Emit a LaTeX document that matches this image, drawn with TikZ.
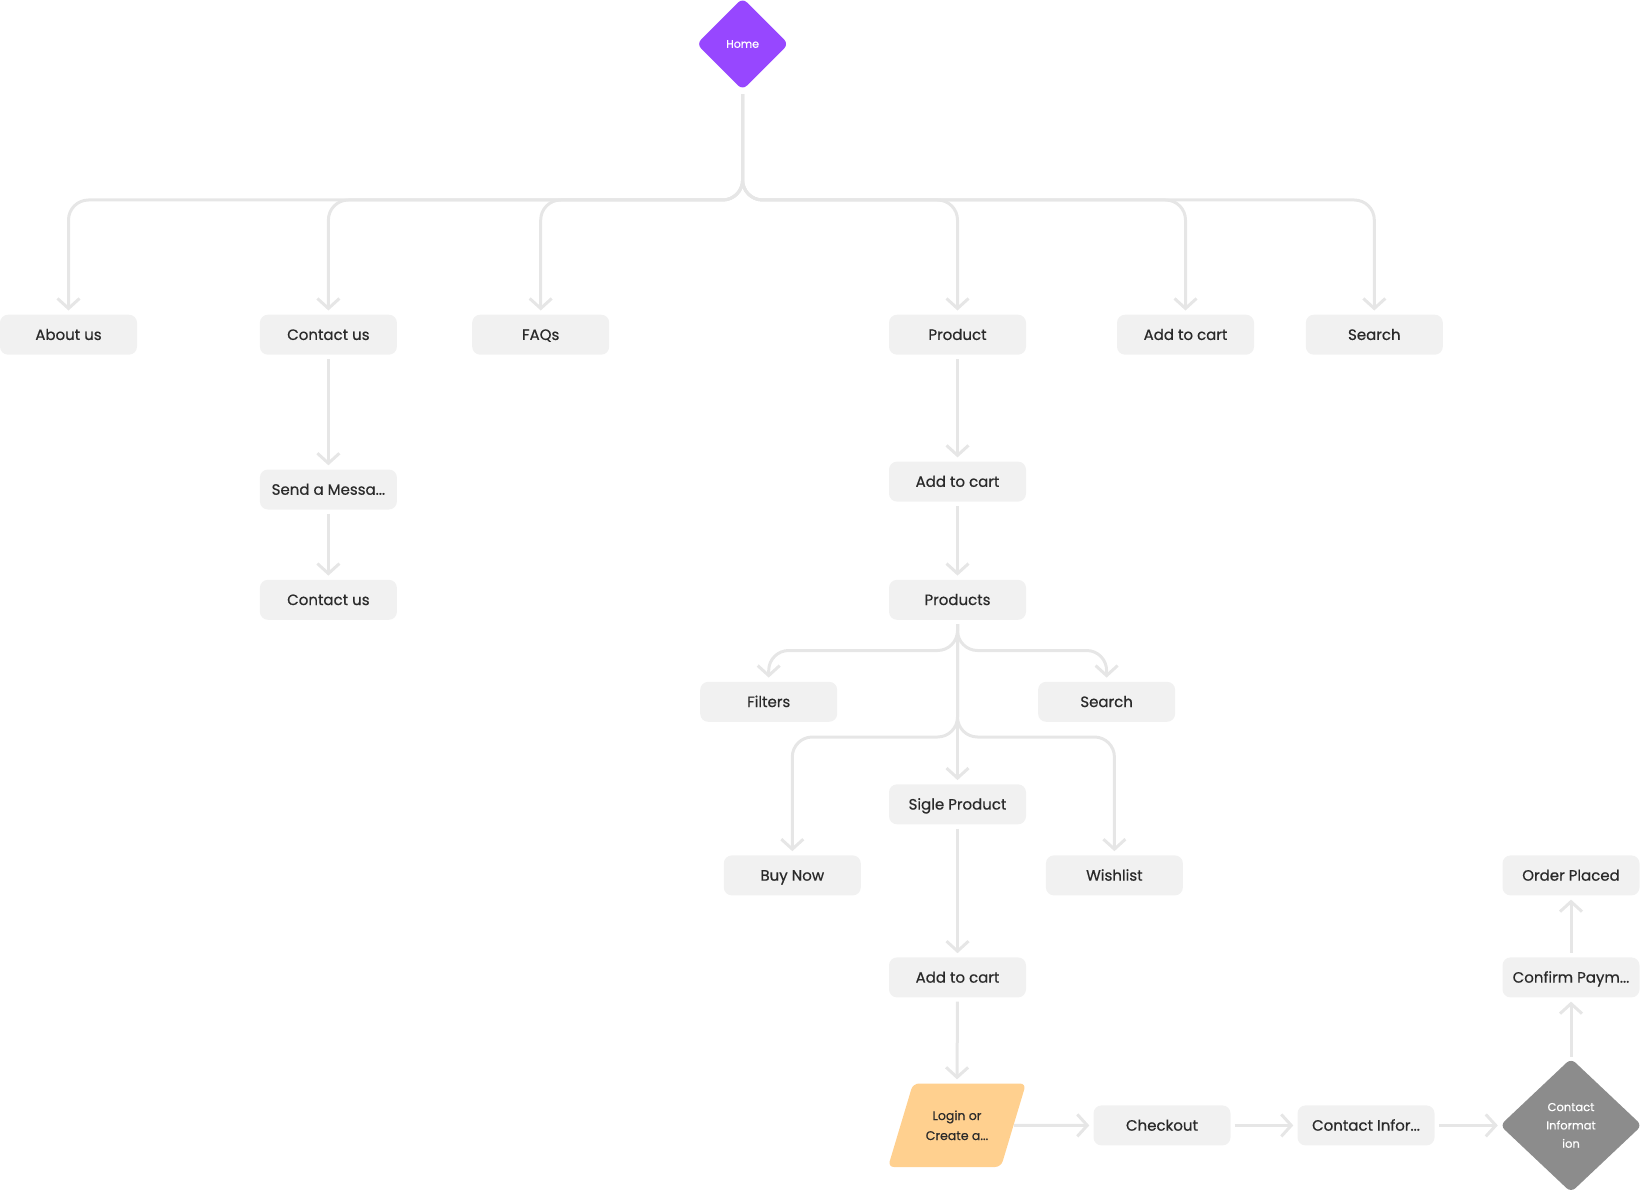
\documentclass[tikz,border=0pt]{standalone}
\usepackage{fontspec}
\setmainfont{Poppins}
\newfontfamily\medfont{Poppins}[FakeBold=0.6]
\usetikzlibrary{arrows.meta,shapes.geometric}
\definecolor{boxfill}{HTML}{F1F1F1}
\definecolor{linec}{HTML}{E6E6E6}
\definecolor{textc}{HTML}{2A2A2A}
\definecolor{purp}{HTML}{9747FF}
\definecolor{graydia}{HTML}{8C8C8C}
\definecolor{loginc}{HTML}{FFD08F}
\tikzset{
  box/.style={rectangle, rounded corners=8pt, fill=boxfill, minimum width=137pt, minimum height=40pt, inner sep=0pt, text height=10.5pt, text depth=0pt, text=textc, font=\medfont\fontsize{15}{18}\selectfont},
  conn/.style={draw=linec, line width=3pt, rounded corners=20pt, -{Straight Barb[length=10pt,width=22pt]}, shorten >=4pt, shorten <=4pt},
}
\begin{document}
\begin{tikzpicture}[x=1pt,y=-1pt]
\useasboundingbox (0,0) rectangle (1640,1190);

% nodes
\node[diamond, fill=purp, rounded corners=6pt, minimum width=92pt, minimum height=92pt, inner sep=0pt, text=white, font=\medfont\fontsize{11}{12}\selectfont] (home) at (742.6,44) {Home};

\node[box] (about) at (68.5,334.7) {About us};
\node[box] (contact) at (328.4,334.7) {Contact us};
\node[box] (faqs) at (540.7,334.7) {FAQs};
\node[box] (product) at (957.5,334.7) {Product};
\node[box] (addcart) at (1185.5,334.7) {Add to cart};
\node[box] (search) at (1374.3,334.7) {Search};

\node[box] (send) at (328.4,489.5) {Send a Messa...};
\node[box] (contact2) at (328.4,599.8) {Contact us};

\node[box] (addcart2) at (957.5,481.6) {Add to cart};
\node[box] (products) at (957.5,599.8) {Products};
\node[box] (filters) at (768.7,701.8) {Filters};
\node[box] (search2) at (1106.6,701.8) {Search};
\node[box] (sigle) at (957.5,804.3) {Sigle Product};
\node[box] (buynow) at (792.3,875.4) {Buy Now};
\node[box] (wishlist) at (1114.4,875.4) {Wishlist};
\node[box] (addcart3) at (957.5,977.4) {Add to cart};

\fill[loginc, rounded corners=6pt] (913,1083.5) -- (1026,1083.5) -- (1001,1167) -- (888,1167) -- cycle;
\node[rectangle, minimum width=112pt, minimum height=83.5pt, inner sep=0pt, text=textc, align=center, font=\medfont\fontsize{12.5}{20}\selectfont] (login) at (957,1125.3) {Login or\\Create a...};

\node[box] (checkout) at (1162,1125.4) {Checkout};
\node[box] (continfo) at (1366,1125.4) {Contact Infor...};
\node[diamond, fill=graydia, rounded corners=6pt, minimum width=142pt, minimum height=134pt, inner sep=0pt, text=white, align=center, font=\medfont\fontsize{11.5}{18.3}\selectfont] (cinfo) at (1571,1125.4) {Contact\\Informat\\ion};
\node[box] (confirm) at (1571,977.4) {Confirm Paym...};
\node[box] (order) at (1571,875.4) {Order Placed};

% bus coordinates
\coordinate (bus) at (742.6,200);
\coordinate (pb1) at (957.5,650.5);
\coordinate (pb2) at (957.5,737);

% home connectors
\draw[conn] (home.south) -- (bus) -| (about.north);
\draw[conn] (home.south) -- (bus) -| (contact.north);
\draw[conn] (home.south) -- (bus) -| (faqs.north);
\draw[conn] (home.south) -- (bus) -| (product.north);
\draw[conn] (home.south) -- (bus) -| (addcart.north);
\draw[conn] (home.south) -- (bus) -| (search.north);

% contact branch
\draw[conn] (contact.south) -- (send.north);
\draw[conn] (send.south) -- (contact2.north);

% product branch
\draw[conn] (product.south) -- (addcart2.north);
\draw[conn] (addcart2.south) -- (products.north);
\draw[conn] (products.south) -- (pb1) -| (filters.north);
\draw[conn] (products.south) -- (pb1) -| (search2.north);
\draw[conn] (products.south) -- (pb2) -| (buynow.north);
\draw[conn] (products.south) -- (pb2) -| (wishlist.north);
\draw[conn] (products.south) -- (sigle.north);
\draw[conn] (sigle.south) -- (addcart3.north);
\draw[conn] (addcart3.south) -- (login.north);

% checkout flow
\draw[conn, shorten <=1pt] (login.east) -- (checkout.west);
\draw[conn] (checkout.east) -- (continfo.west);
\draw[conn, shorten >=2pt] (continfo.east) -- (cinfo.west);
\draw[conn, shorten <=1pt] (cinfo.north) -- (confirm.south);
\draw[conn] (confirm.north) -- (order.south);
\end{tikzpicture}
\end{document}
